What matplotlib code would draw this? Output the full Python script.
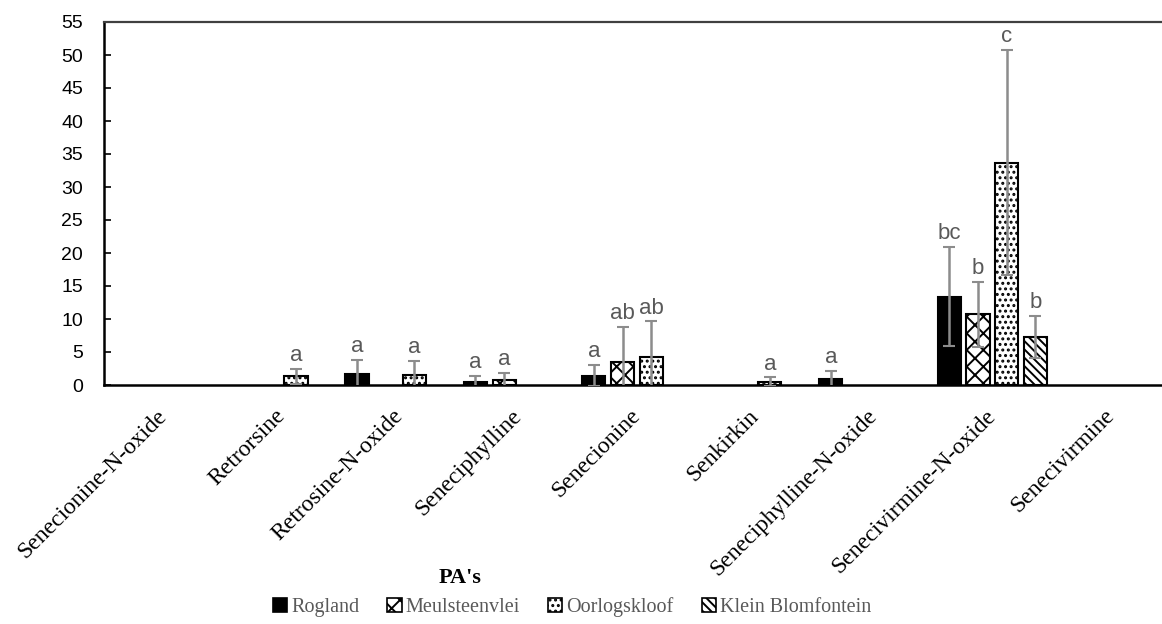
import numpy as np
import matplotlib
matplotlib.use("Agg")
import matplotlib.pyplot as plt

# PA concentrations per site (zero = not detected)
compounds = ["Senecionine-N-oxide", "Retrorsine", "Retrosine-N-oxide", "Seneciphylline",
             "Senecionine", "Senkirkin", "Seneciphylline-N-oxide", "Senecivirmine-N-oxide",
             "Senecivirmine"]
sites = ["Rogland", "Meulsteenvlei", "Oorlogskloof", "Klein Blomfontein"]

rogland = [0, 0, 1.6, 0.5, 1.4, 0, 0.85, 13.4, 0]
rogland_err = [0, 0, 2.2, 0.9, 1.6, 0, 1.3, 7.5, 0]
meulsteenvlei = [0, 0, 0, 0.8, 3.5, 0, 0, 10.7, 0]
meulsteenvlei_err = [0, 0, 0, 1.05, 5.3, 0, 0, 4.9, 0]
oorlogskloof = [0, 1.3, 1.5, 0, 4.2, 0.5, 0, 33.7, 0]
oorlogskloof_err = [0, 1.2, 2.1, 0, 5.45, 0.65, 0, 17.1, 0]
klein = [0, 0, 0, 0, 0, 0, 0, 7.3, 0]
klein_err = [0, 0, 0, 0, 0, 0, 0, 3.2, 0]

rogland_lbl = ["", "", "a", "a", "a", "", "a", "bc", ""]
meulsteenvlei_lbl = ["", "", "", "a", "ab", "", "", "b", ""]
oorlogskloof_lbl = ["", "a", "a", "", "ab", "a", "", "c", ""]
klein_lbl = ["", "", "", "", "", "", "", "b", ""]

series = [
    (rogland, rogland_err, rogland_lbl, "black", ""),
    (meulsteenvlei, meulsteenvlei_err, meulsteenvlei_lbl, "white", "xx"),
    (oorlogskloof, oorlogskloof_err, oorlogskloof_lbl, "white", "..."),
    (klein, klein_err, klein_lbl, "white", "\\\\\\\\"),
]

plt.rcParams["hatch.linewidth"] = 1.4
plt.rcParams["hatch.color"] = "black"

fig = plt.figure(figsize=(11.62, 6.24), dpi=100)
ax = fig.add_axes([104 / 1162, 1 - 385 / 624, 1066 / 1162, 363 / 624])

x = np.arange(len(compounds))
slot = 0.2426
width = 0.195
grey = "#595959"

handles = []
for i, (vals, errs, lbls, fc, hatch) in enumerate(series):
    vals = np.array(vals, float)
    errs = np.array(errs, float)
    pos = x + (i - 1.5) * slot
    m = vals > 0
    ax.bar(pos[m], vals[m], width, color=fc, edgecolor="black", linewidth=1.5,
           hatch=hatch, zorder=2)
    ax.errorbar(pos[m], vals[m], yerr=errs[m], fmt="none", ecolor="#8c8c8c",
                elinewidth=1.8, capsize=4.5, capthick=1.5, zorder=3)
    for p, v, e, t in zip(pos, vals, errs, lbls):
        if t:
            ax.annotate(t, (p, v + e), xytext=(0, 2), textcoords="offset points",
                        ha="center", va="bottom", fontsize=16, color=grey,
                        family="Liberation Sans")
    handles.append(plt.Rectangle((0, 0), 1, 1, facecolor=fc, edgecolor="black",
                                 linewidth=1.2, hatch=hatch, label=sites[i]))

ax.set_xlim(-0.5, len(compounds) - 0.5)
ax.set_ylim(0, 55)
ax.set_yticks(np.arange(0, 56, 5))
ax.tick_params(axis="y", direction="in", length=5, width=1.2, labelsize=14,
               pad=15, colors="black")
ax.tick_params(axis="x", length=0, pad=20)
ax.set_xticks(x)
ax.set_xticklabels(compounds, rotation=45, ha="right", va="center",
                   rotation_mode="anchor", family="Liberation Serif", fontsize=17)
for lab in ax.get_yticklabels():
    lab.set_family("Liberation Sans")

ax.spines["right"].set_visible(False)
ax.spines["left"].set_linewidth(1.8)
ax.spines["bottom"].set_linewidth(1.8)
ax.spines["top"].set_linewidth(1.6)
ax.spines["top"].set_color("#404040")

fig.text(460 / 1162, 1 - 578 / 624, "PA's", ha="center", va="center",
         family="Liberation Serif", fontweight="bold", fontsize=16)

leg = fig.legend(handles=handles, loc="center", bbox_to_anchor=(572 / 1162, 1 - 607 / 624),
                 ncol=4, frameon=False, handlelength=0.7, handleheight=0.7,
                 handletextpad=0.2, columnspacing=1.4,
                 prop={"family": "Liberation Serif", "size": 14.5})
for t in leg.get_texts():
    t.set_color(grey)

fig.savefig("out.png", dpi=100)
